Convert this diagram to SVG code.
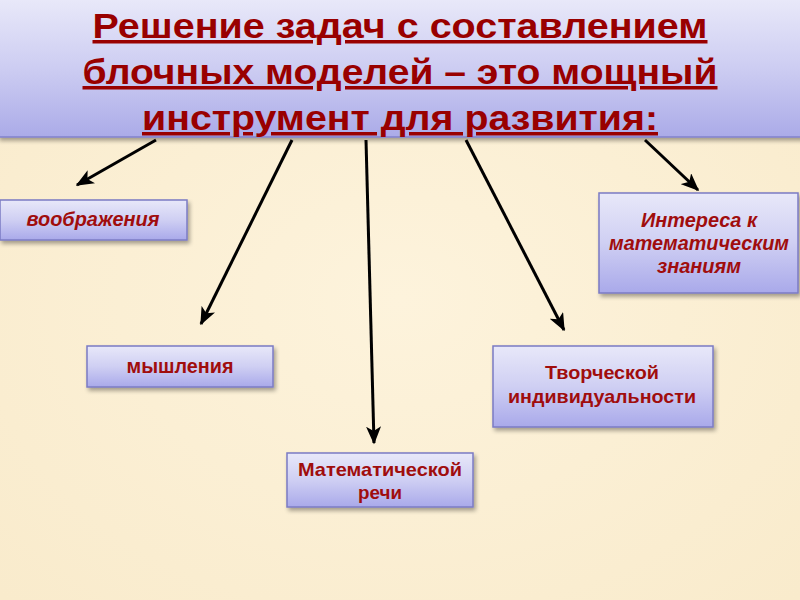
<svg xmlns="http://www.w3.org/2000/svg" width="800" height="600" viewBox="0 0 800 600">
<defs>
<linearGradient id="boxg" x1="0" y1="0" x2="0" y2="1">
<stop offset="0" stop-color="#e8e8f9"/>
<stop offset="0.5" stop-color="#cfcff3"/>
<stop offset="1" stop-color="#a9a9ea"/>
</linearGradient>
<linearGradient id="headg" x1="0" y1="0" x2="0" y2="1">
<stop offset="0" stop-color="#e9e9f9"/>
<stop offset="0.5" stop-color="#cdcdf2"/>
<stop offset="1" stop-color="#ababe8"/>
</linearGradient>
<radialGradient id="bg" cx="0.5" cy="0.5" r="0.7">
<stop offset="0" stop-color="#fdf3dc"/>
<stop offset="1" stop-color="#f9ebcc"/>
</radialGradient>
<filter id="sh" x="-10%" y="-10%" width="130%" height="140%">
<feGaussianBlur in="SourceAlpha" stdDeviation="2"/>
<feOffset dx="2" dy="3" result="b"/>
<feComponentTransfer><feFuncA type="linear" slope="0.35"/></feComponentTransfer>
<feMerge><feMergeNode/><feMergeNode in="SourceGraphic"/></feMerge>
</filter>
<marker id="ah" viewBox="0 0 12 10" refX="11" refY="5" markerWidth="6" markerHeight="5" orient="auto" markerUnits="strokeWidth">
<path d="M0,0 L12,5 L0,10 L3,5 z" fill="#000"/>
</marker>
</defs>
<style>
.box{fill:url(#boxg);stroke:#7b7bc4;stroke-width:1.5;filter:url(#sh)}
.t{font-family:"Liberation Sans",Arial,sans-serif;font-weight:bold;fill:#a00d0d;text-anchor:middle}
.it{font-style:italic}
.title{font-family:"Liberation Sans",Arial,sans-serif;font-weight:bold;fill:#990000;text-anchor:middle;font-size:35px;text-decoration:underline}
.c{stroke:#000;stroke-width:3;fill:none;marker-end:url(#ah)}
</style>
<rect x="0" y="0" width="800" height="600" fill="url(#bg)"/>
<g id="header">
<rect x="-2" y="-2" width="804" height="139" fill="url(#headg)" stroke="#8080cc" stroke-width="1.5" filter="url(#sh)"/>
<text class="title" x="400" y="38" textLength="615" lengthAdjust="spacingAndGlyphs">Решение задач с составлением</text>
<text class="title" x="400" y="84" textLength="635" lengthAdjust="spacingAndGlyphs">блочных моделей – это мощный</text>
<text class="title" x="400" y="130" textLength="516" lengthAdjust="spacingAndGlyphs">инструмент для развития:</text>
</g>
<g id="connectors">
<line class="c" x1="156" y1="140" x2="77" y2="185"/>
<line class="c" x1="292" y1="140" x2="201" y2="324"/>
<line class="c" x1="366" y1="140" x2="374" y2="443"/>
<line class="c" x1="466" y1="140" x2="564" y2="330"/>
<line class="c" x1="645" y1="140" x2="698" y2="190"/>
</g>
<g id="n1">
<rect class="box" x="0" y="200" width="187" height="40"/>
<text class="t it" x="93" y="226" font-size="20" textLength="133" lengthAdjust="spacingAndGlyphs">воображения</text>
</g>
<g id="n2">
<rect class="box" x="87" y="346" width="186" height="41"/>
<text class="t" x="180" y="373" font-size="20" textLength="107" lengthAdjust="spacingAndGlyphs">мышления</text>
</g>
<g id="n3">
<rect class="box" x="287" y="453" width="186" height="54"/>
<text class="t" x="380" y="476" font-size="19" textLength="164" lengthAdjust="spacingAndGlyphs">Математической</text>
<text class="t" x="380" y="499" font-size="19" textLength="44" lengthAdjust="spacingAndGlyphs">речи</text>
</g>
<g id="n4">
<rect class="box" x="493" y="346" width="220" height="81"/>
<text class="t" x="602" y="379" font-size="19" textLength="114" lengthAdjust="spacingAndGlyphs">Творческой</text>
<text class="t" x="602" y="403" font-size="19" textLength="188" lengthAdjust="spacingAndGlyphs">индивидуальности</text>
</g>
<g id="n5">
<rect class="box" x="599" y="193" width="199" height="100"/>
<text class="t it" x="699" y="227" font-size="20" textLength="116" lengthAdjust="spacingAndGlyphs">Интереса к</text>
<text class="t it" x="699" y="250" font-size="20" textLength="180" lengthAdjust="spacingAndGlyphs">математическим</text>
<text class="t it" x="699" y="273" font-size="20" textLength="84" lengthAdjust="spacingAndGlyphs">знаниям</text>
</g>
</svg>
